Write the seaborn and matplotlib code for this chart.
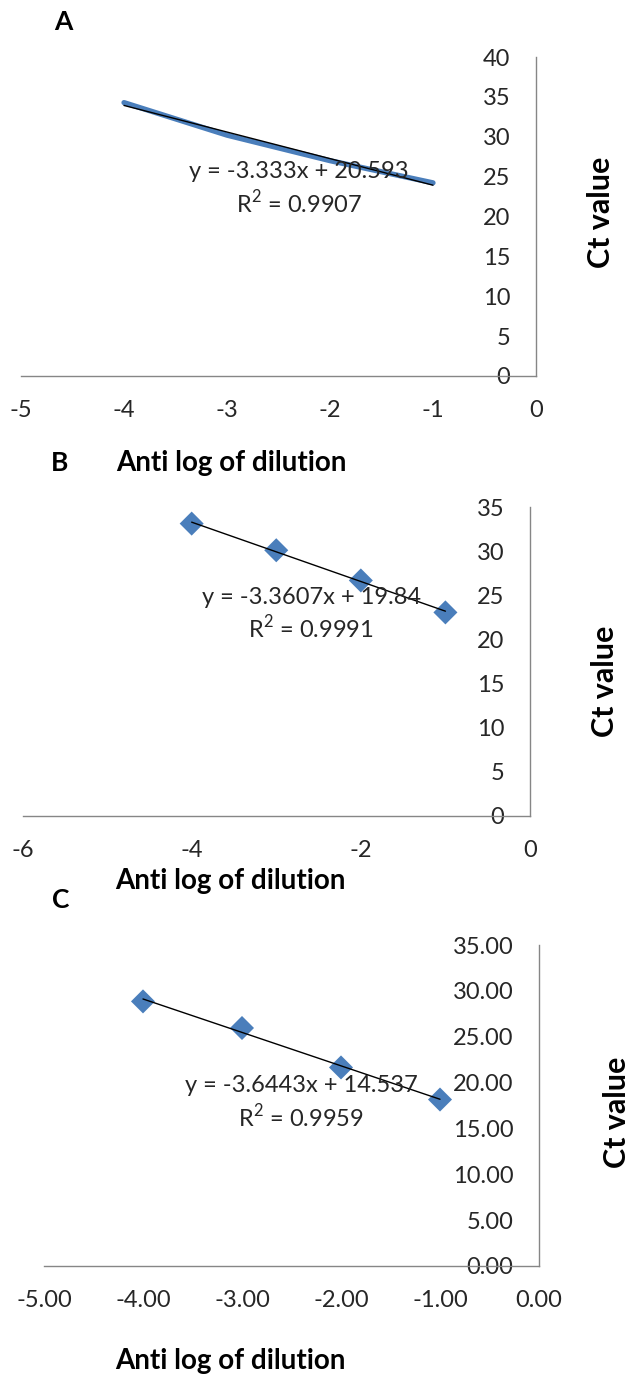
import matplotlib
matplotlib.use("Agg")
import matplotlib.pyplot as plt
import numpy as np
import pandas as pd
import seaborn as sns

# ---- data -------------------------------------------------------------
log_dilution = [-4, -3, -2, -1]
ct_a = [34.28, 30.20, 27.00, 24.22]
ct_b = [33.12, 30.10, 26.68, 23.06]
ct_c = [28.85, 25.95, 21.65, 18.15]

fit_slope = [-3.333, -3.3607, -3.6443]
fit_intercept = [20.593, 19.84, 14.537]
fit_eq = ["y = -3.333x + 20.593", "y = -3.3607x + 19.84", "y = -3.6443x + 14.537"]
fit_r2 = ["R$^2$ = 0.9907", "R$^2$ = 0.9991", "R$^2$ = 0.9959"]

panel_letters = ["A", "B", "C"]
x_ticks_a = [-5, -4, -3, -2, -1, 0]
y_ticks_a = [0, 5, 10, 15, 20, 25, 30, 35, 40]
x_ticks_b = [-6, -4, -2, 0]
y_ticks_b = [0, 5, 10, 15, 20, 25, 30, 35]
x_ticks_c = [-5, -4, -3, -2, -1, 0]
y_ticks_c = [0, 5, 10, 15, 20, 25, 30, 35]

x_title = "Anti log of dilution"
y_title = "Ct value"

# ---- style ------------------------------------------------------------
sns.set_theme(style="white")
plt.rcParams["font.family"] = ["Lato", "DejaVu Sans"]
plt.rcParams["axes.unicode_minus"] = False
plt.rcParams["mathtext.fontset"] = "custom"
plt.rcParams["mathtext.rm"] = "Lato"

W, H = 631, 1378
BLUE = "#4a7ebb"
AXIS_GREY = "#868686"
TEXT = "#262626"
TICK_SIZE = 17
EQ_SIZE = 17

fig = plt.figure(figsize=(W / 100, H / 100), dpi=100)


def px_axes(x0, x1, y_top, y_bottom):
    """Axes rectangle from pixel extents of the plotting area."""
    return fig.add_axes([x0 / W, 1 - y_bottom / H, (x1 - x0) / W, (y_bottom - y_top) / H])


def fig_text(x, y, s, **kw):
    fig.text(x / W, 1 - y / H, s, **kw)


def style_axes(ax, xticks, yticks, fmt):
    ax.set_xlim(xticks[0], xticks[-1])
    ax.set_ylim(yticks[0], yticks[-1])
    ax.spines["left"].set_position(("data", 0))
    ax.spines["bottom"].set_position(("data", 0))
    for side in ["top", "right"]:
        ax.spines[side].set_visible(False)
    for side in ["left", "bottom"]:
        ax.spines[side].set_color(AXIS_GREY)
        ax.spines[side].set_linewidth(1.0)
    ax.set_xticks(xticks)
    ax.set_yticks(yticks)
    ax.set_xticklabels([fmt.format(v) for v in xticks])
    ax.set_yticklabels([fmt.format(v) for v in yticks])
    ax.tick_params(axis="both", direction="out", length=7, width=1.0,
                   color=AXIS_GREY, labelsize=TICK_SIZE, labelcolor=TEXT)
    ax.tick_params(axis="x", pad=10)
    ax.tick_params(axis="y", pad=11.5)
    ax.set_xlabel("")
    ax.set_ylabel("")
    ax.set_facecolor("none")


def trend(ax, k):
    xs = np.array([log_dilution[0], log_dilution[-1]], dtype=float)
    df = pd.DataFrame({"x": xs, "y": fit_slope[k] * xs + fit_intercept[k]})
    sns.lineplot(data=df, x="x", y="y", ax=ax, color="black", lw=1.0, zorder=4)


# ---- panel A: series line with linear trend ------------------------------
ax_a = px_axes(21, 536, 57, 376)
sns.lineplot(x=log_dilution, y=ct_a, ax=ax_a, color=BLUE, lw=3.8,
             solid_capstyle="round", zorder=3)
trend(ax_a, 0)
style_axes(ax_a, x_ticks_a, y_ticks_a, "{:g}")

# ---- panel B ------------------------------------------------------------
ax_b = px_axes(22.5, 530, 507, 816)
sns.scatterplot(x=log_dilution, y=ct_b, ax=ax_b, marker="D", s=150,
                color=BLUE, edgecolor="none", zorder=3)
trend(ax_b, 1)
style_axes(ax_b, x_ticks_b, y_ticks_b, "{:g}")

# ---- panel C ------------------------------------------------------------
ax_c = px_axes(44, 539, 945, 1266)
sns.scatterplot(x=log_dilution, y=ct_c, ax=ax_c, marker="D", s=150,
                color=BLUE, edgecolor="none", zorder=3)
trend(ax_c, 2)
style_axes(ax_c, x_ticks_c, y_ticks_c, "{:.2f}")

# ---- equations, titles and panel letters --------------------------------
eq_pos = [(299, 172, 203), (311, 597, 628), (301, 1085, 1117)]
for k, (cx, y1, y2) in enumerate(eq_pos):
    fig_text(cx, y1, fit_eq[k], ha="center", va="center", fontsize=EQ_SIZE, color=TEXT, zorder=5)
    fig_text(cx, y2, fit_r2[k], ha="center", va="center", fontsize=EQ_SIZE, color=TEXT, zorder=5)

for xt, yt in [(231, 463), (230, 881), (230, 1361)]:
    fig_text(xt, yt, x_title, ha="center", va="center", fontsize=20,
             fontweight="bold", color="black")

for xt, yt in [(601, 212), (605, 681), (617, 1112)]:
    fig_text(xt, yt, y_title, ha="center", va="center", fontsize=22,
             fontweight="bold", color="black", rotation=90)

for (xt, yt), letter in zip([(63, 22), (60, 463), (61, 900)], panel_letters):
    fig_text(xt, yt, letter, ha="center", va="center", fontsize=19,
             fontweight="bold", color="black")

fig.savefig("out.png", dpi=100, facecolor="white")
